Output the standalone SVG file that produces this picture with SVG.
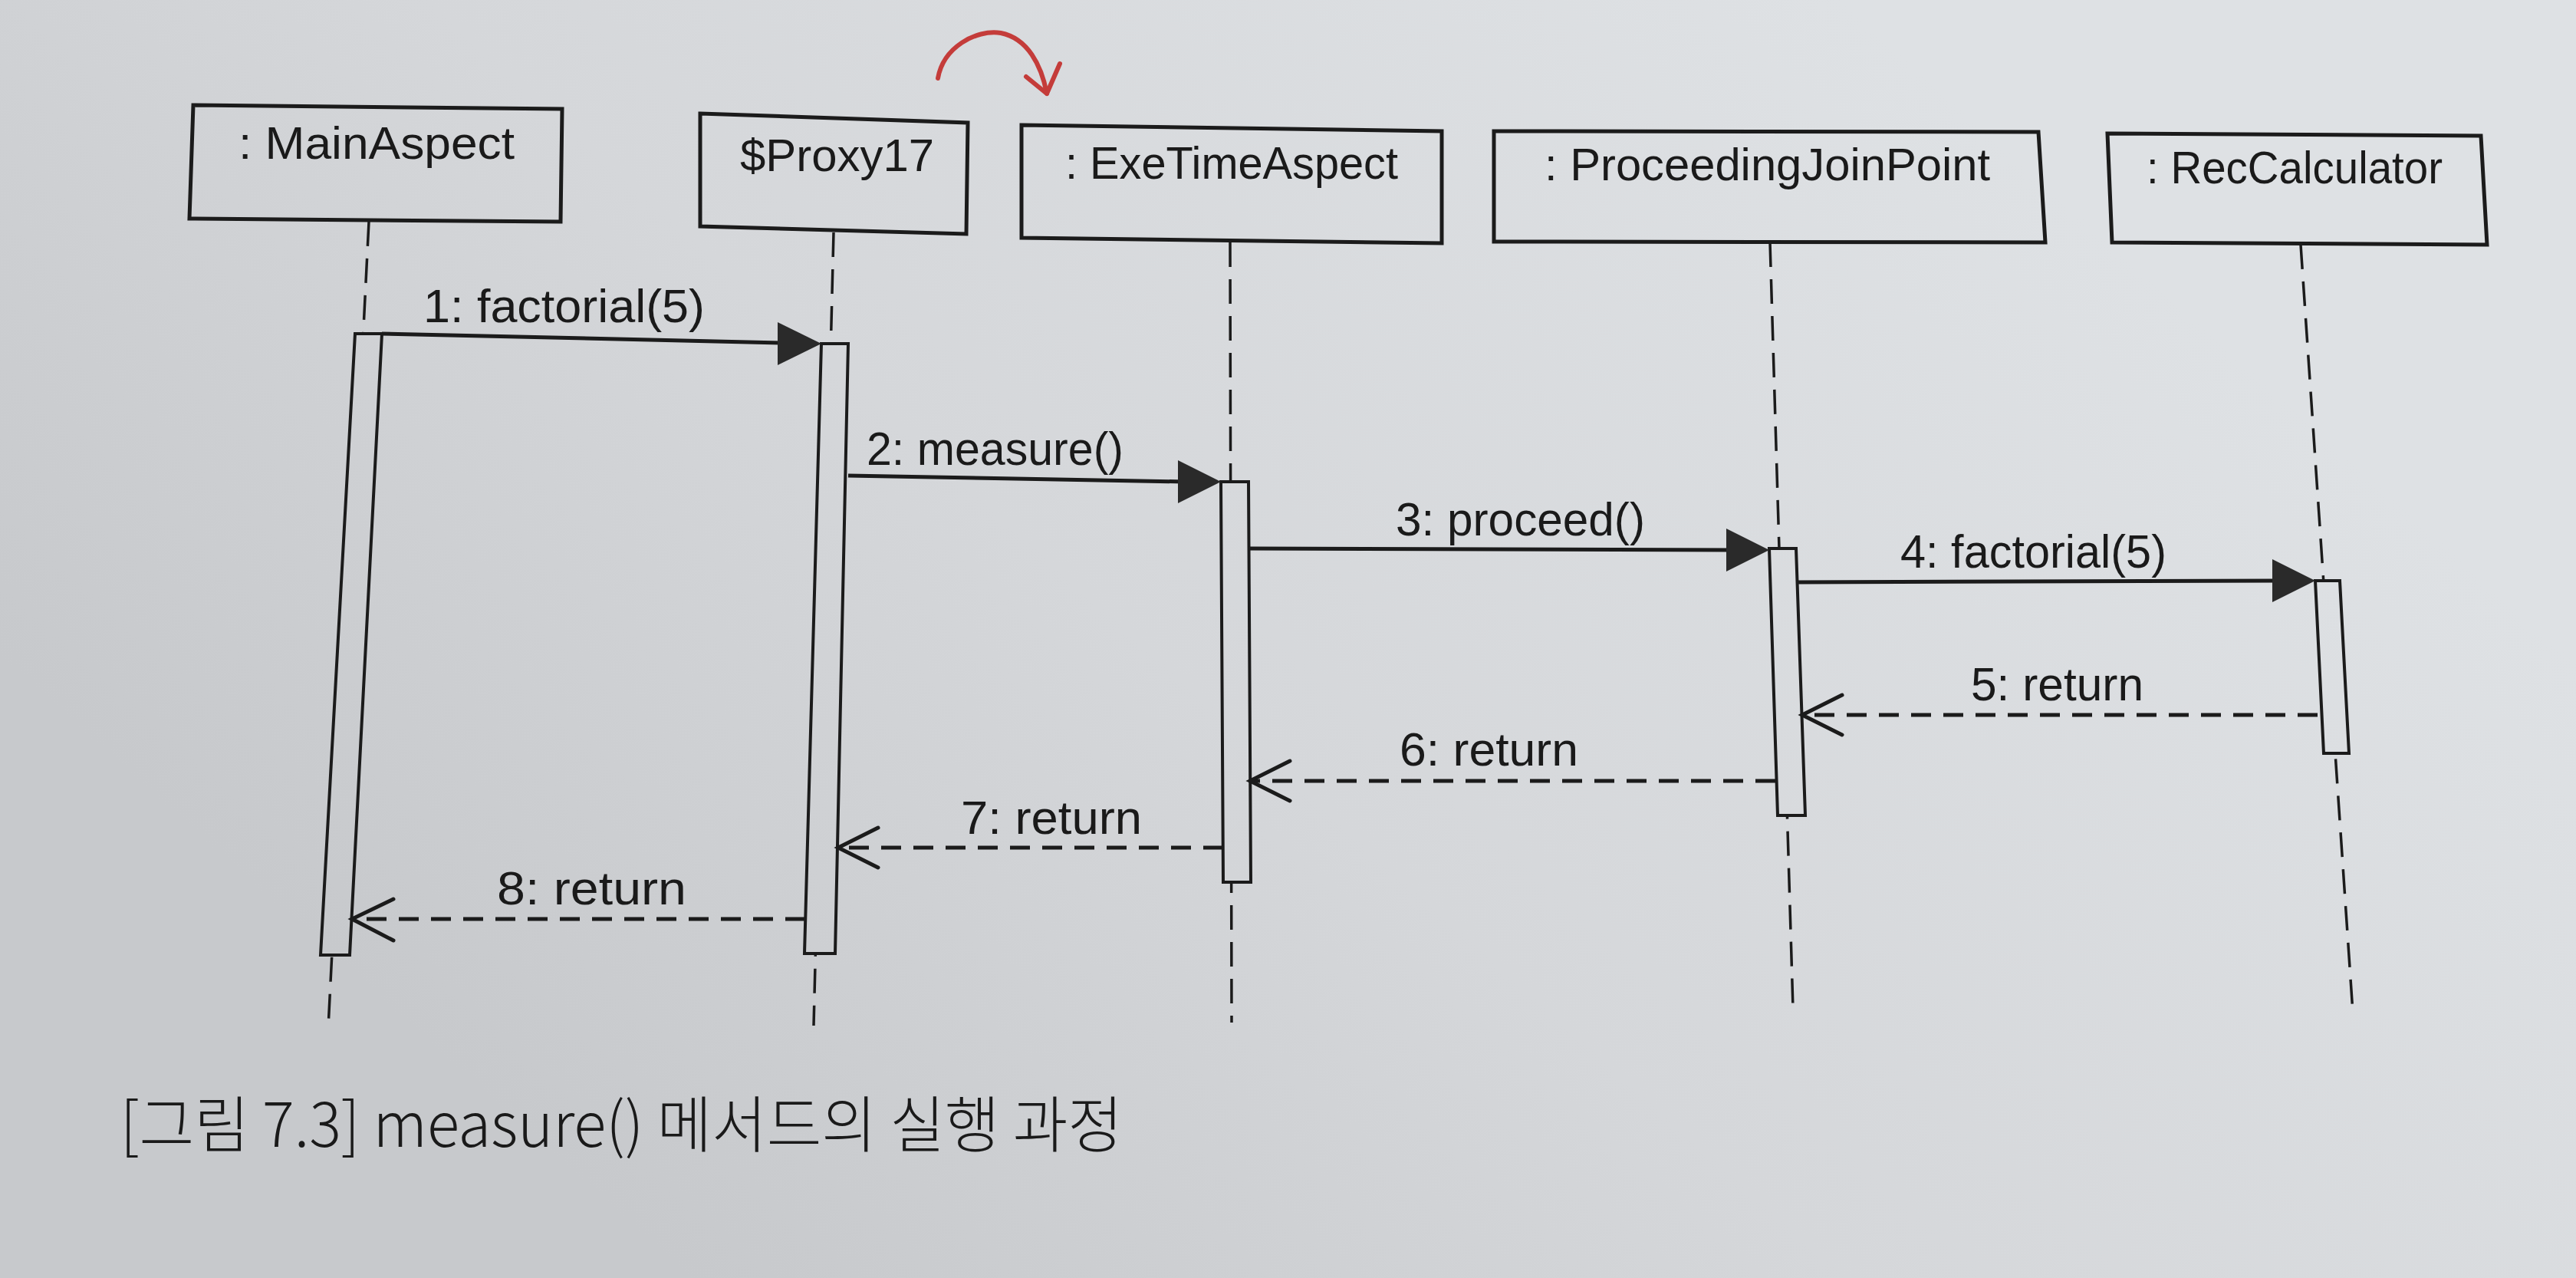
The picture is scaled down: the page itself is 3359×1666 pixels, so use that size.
<svg xmlns="http://www.w3.org/2000/svg" width="3359" height="1666" viewBox="0 0 3359 1666">
<defs>
<linearGradient id="paper" gradientUnits="userSpaceOnUse" x1="2400" y1="0" x2="900" y2="1666">
<stop offset="0" stop-color="#dee1e4"/>
<stop offset="0.55" stop-color="#d5d7da"/>
<stop offset="1" stop-color="#c7c9cc"/>
</linearGradient>
<style>
.box{fill:url(#paper);stroke:#1b1b1b;stroke-width:5;stroke-linejoin:miter}
.bar{fill:url(#paper);stroke:#1b1b1b;stroke-width:4}
.life{stroke:#1b1b1b;stroke-width:3.5;stroke-dasharray:32 16;fill:none}
.msg{stroke:#1b1b1b;stroke-width:5;fill:none}
.ret{stroke:#1b1b1b;stroke-width:5;stroke-dasharray:26 16;fill:none}
.head{fill:#2a2a2a;stroke:none}
.open{fill:none;stroke:#1b1b1b;stroke-width:5;stroke-linecap:round;stroke-linejoin:miter}
.lbl{font-family:"Liberation Sans","Open Sans",sans-serif;font-size:59px;fill:#1a1a1a}
.mlbl{font-family:"Liberation Sans","Open Sans",sans-serif;font-size:61px;fill:#1a1a1a}
.cap{font-family:"Noto Sans CJK KR","Noto Sans",sans-serif;font-size:80px;font-weight:300;fill:#1a1a1a}
</style>
</defs>
<rect x="0" y="0" width="3359" height="1666" fill="url(#paper)"/>

<!-- red hand-drawn annotation -->
<g id="annotation" fill="none" stroke="#c43c3a" stroke-width="6" stroke-linecap="round" stroke-linejoin="round">
<path d="M1223,102 C1230,62 1272,38 1305,43 C1340,50 1358,85 1365,122"/>
<polyline points="1338,100 1365,122 1382,83"/>
</g>

<!-- lifelines -->
<g id="lifelines">
<line class="life" x1="481" y1="289" x2="428" y2="1340"/>
<line class="life" x1="1087" y1="303" x2="1061" y2="1337"/>
<line class="life" x1="1604" y1="316" x2="1606" y2="1333"/>
<line class="life" x1="2308" y1="316" x2="2338" y2="1315"/>
<line class="life" x1="3000" y1="319" x2="3068" y2="1320"/>
</g>

<!-- nodes -->
<g id="node-mainaspect">
<polygon class="box" points="252,137 733,142 731,289 247,285"/>
<text class="lbl" x="311" y="207" textLength="360" lengthAdjust="spacingAndGlyphs">: MainAspect</text>
<polygon class="bar" points="463,435 498,435 456,1245 418,1245"/>
</g>
<g id="node-proxy17">
<polygon class="box" points="913,148 1262,160 1260,305 913,295"/>
<text class="lbl" x="965" y="223" textLength="253" lengthAdjust="spacingAndGlyphs">$Proxy17</text>
<polygon class="bar" points="1071,448 1106,448 1089,1243 1049,1243"/>
</g>
<g id="node-exetimeaspect">
<polygon class="box" points="1332,163 1880,171 1880,317 1332,310"/>
<text class="lbl" x="1389" y="233" textLength="434" lengthAdjust="spacingAndGlyphs">: ExeTimeAspect</text>
<polygon class="bar" points="1592,628 1628,628 1631,1150 1595,1150"/>
</g>
<g id="node-proceedingjoinpoint">
<polygon class="box" points="1948,171 2658,172 2667,316 1948,315"/>
<text class="lbl" x="2014" y="235" textLength="581" lengthAdjust="spacingAndGlyphs">: ProceedingJoinPoint</text>
<polygon class="bar" points="2307,715 2342,715 2354,1063 2318,1063"/>
</g>
<g id="node-reccalculator">
<polygon class="box" points="2748,174 3235,177 3243,319 2754,316"/>
<text class="lbl" x="2799" y="239" textLength="386" lengthAdjust="spacingAndGlyphs">: RecCalculator</text>
<polygon class="bar" points="3019,757 3051,757 3063,982 3030,982"/>
</g>

<!-- connectors -->
<g id="connectors">
<line class="msg" x1="498" y1="435" x2="1020" y2="447"/>
<polygon class="head" points="1071,448 1014,420 1014,476"/>
<text class="mlbl" x="552" y="420" textLength="367" lengthAdjust="spacingAndGlyphs">1: factorial(5)</text>

<line class="msg" x1="1106" y1="620" x2="1545" y2="628"/>
<polygon class="head" points="1592,628 1536,600 1536,656"/>
<text class="mlbl" x="1130" y="606" textLength="335" lengthAdjust="spacingAndGlyphs">2: measure()</text>

<line class="msg" x1="1628" y1="715" x2="2258" y2="717"/>
<polygon class="head" points="2307,717 2251,689 2251,745"/>
<text class="mlbl" x="1820" y="698" textLength="325" lengthAdjust="spacingAndGlyphs">3: proceed()</text>

<line class="msg" x1="2343" y1="759" x2="2970" y2="757"/>
<polygon class="head" points="3019,757 2963,729 2963,785"/>
<text class="mlbl" x="2478" y="740" textLength="347" lengthAdjust="spacingAndGlyphs">4: factorial(5)</text>

<line class="ret" x1="3022" y1="932" x2="2352" y2="932"/>
<polyline class="open" points="2402,906 2350,932 2402,958"/>
<text class="mlbl" x="2570" y="913" textLength="225" lengthAdjust="spacingAndGlyphs">5: return</text>

<line class="ret" x1="2315" y1="1018" x2="1632" y2="1018"/>
<polyline class="open" points="1682,992 1630,1018 1682,1044"/>
<text class="mlbl" x="1825" y="998" textLength="233" lengthAdjust="spacingAndGlyphs">6: return</text>

<line class="ret" x1="1595" y1="1105" x2="1095" y2="1105"/>
<polyline class="open" points="1145,1079 1093,1105 1145,1131"/>
<text class="mlbl" x="1253" y="1087" textLength="236" lengthAdjust="spacingAndGlyphs">7: return</text>

<line class="ret" x1="1050" y1="1198" x2="461" y2="1198"/>
<polyline class="open" points="513,1172 459,1198 513,1226"/>
<text class="mlbl" x="648" y="1179" textLength="247" lengthAdjust="spacingAndGlyphs">8: return</text>
</g>

<!-- caption -->
<text class="cap" x="157" y="1495" textLength="1307" lengthAdjust="spacingAndGlyphs">[그림 7.3] measure() 메서드의 실행 과정</text>
</svg>
